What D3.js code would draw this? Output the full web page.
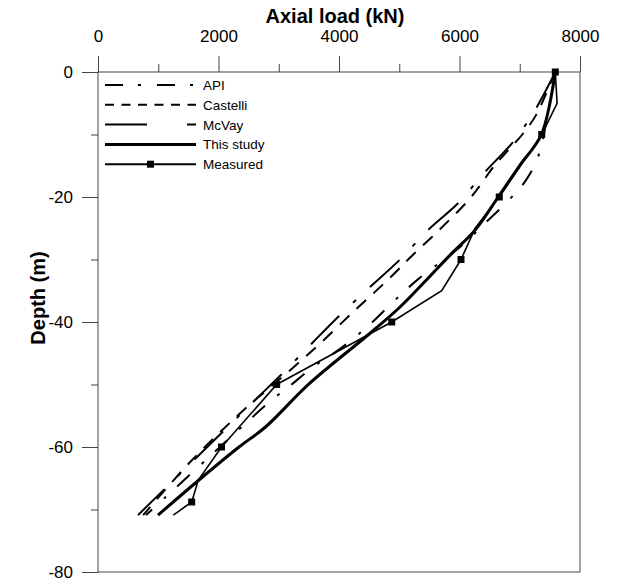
<!DOCTYPE html>
<html>
<head>
<meta charset="utf-8">
<script src="https://cdn.jsdelivr.net/npm/d3@7"></script>
<style>
  body { margin: 0; background: #fff; }
  text { font-family: Arial, "Liberation Sans", sans-serif; fill: #000; }
</style>
</head>
<body>
<div id="chart"></div>
<script>
// Axis ticks
const loadTicks = [0, 2000, 4000, 6000, 8000];
const loadMinor = [1000, 3000, 5000, 7000];
const depthTicks = [0, -20, -40, -60, -80];
const depthMinor = [-10, -30, -50, -70];

// API
const apiDepth = [0, -6, -13.6, -17.3, -20.3, -24.2, -28, -33.3, -36.8, -40.8, -44.3, -47.2, -50.6, -52.3, -60, -70.9];
const apiLoad = [7590, 7480, 7303, 7104, 6839, 6424, 6009, 5295, 4897, 4465, 4017, 3569, 3137, 2905, 2025, 797];

// Castelli
const castelliDepth = [0, -3.4, -6.9, -9.8, -12.5, -15.2, -17.9, -20.5, -25.3, -29.6, -32.8, -37.8, -43.4, -47.2, -50.9, -54.6, -62.4, -70.9];
const castelliLoad = [7590, 7440, 7270, 7060, 6810, 6560, 6360, 6150, 5660, 5190, 4860, 4300, 3690, 3250, 2800, 2360, 1530, 750];

// McVay
const mcvayDepth = [0, -6.1, -11.2, -16, -21, -25.3, -30, -34.4, -39.2, -43.4, -48.3, -52.8, -70.9];
const mcvayLoad = [7590, 7253, 6888, 6423, 5975, 5477, 5013, 4515, 3984, 3552, 3054, 2573, 664];

// This study
const studyDepth = [0, -10, -14.9, -19.8, -25.3, -29.3, -33, -37.6, -41.8, -49.9, -56.8, -60, -65, -70.9];
const studyLoad = [7590, 7360, 7004, 6656, 6258, 5843, 5478, 5013, 4515, 3502, 2780, 2340, 1710, 996];

// Measured (marked = drawn with a square)
const measuredDepth = [0, -5, -10, -20, -25, -30, -35, -40, -50, -60, -65.3, -68.8, -70.9];
const measuredLoad = [7590, 7620, 7365, 6660, 6260, 6025, 5705, 4875, 2965, 2050, 1665, 1555, 1250];
const measuredMarked = [1, 0, 1, 1, 0, 1, 0, 1, 1, 1, 0, 1, 0];

const width = 618, height = 582;
const margin = { top: 72, right: 38, bottom: 10, left: 98 };

const svg = d3.select("#chart")
    .append("svg")
    .attr("width", width)
    .attr("height", height);

svg.append("rect").attr("width", width).attr("height", height).attr("fill", "#fff");

const x = d3.scaleLinear().domain([0, 8000]).range([margin.left, width - margin.right]);
const y = d3.scaleLinear().domain([-80, 0]).range([height - margin.bottom, margin.top]);

// plain labels: no thousands comma, ascii minus
const plain = d => String(d);

// frame
svg.append("rect")
    .attr("x", x(0))
    .attr("y", y(0))
    .attr("width", x(8000) - x(0))
    .attr("height", y(-80) - y(0))
    .attr("fill", "none")
    .attr("stroke", "#444")
    .attr("stroke-width", 1);

// top axis
const xAxis = svg.append("g")
    .attr("transform", `translate(0, ${y(0)})`)
    .call(d3.axisTop(x).tickValues(loadTicks).tickSize(16).tickPadding(14).tickFormat(plain));
xAxis.select(".domain").remove();
xAxis.selectAll(".tick text").style("font-size", "17px");
xAxis.selectAll(".tick line").attr("stroke", "#444");

const xMinor = svg.append("g")
    .attr("transform", `translate(0, ${y(0)})`)
    .call(d3.axisTop(x).tickValues(loadMinor).tickSize(8).tickFormat(""));
xMinor.select(".domain").remove();
xMinor.selectAll(".tick line").attr("stroke", "#444");

// left axis
const yAxis = svg.append("g")
    .attr("transform", `translate(${x(0)}, 0)`)
    .call(d3.axisLeft(y).tickValues(depthTicks).tickSize(16).tickPadding(9).tickFormat(plain));
yAxis.select(".domain").remove();
yAxis.selectAll(".tick text").style("font-size", "17px");
yAxis.selectAll(".tick line").attr("stroke", "#444");

const yMinor = svg.append("g")
    .attr("transform", `translate(${x(0)}, 0)`)
    .call(d3.axisLeft(y).tickValues(depthMinor).tickSize(7).tickFormat(""));
yMinor.select(".domain").remove();
yMinor.selectAll(".tick line").attr("stroke", "#444");

// axis titles
svg.append("text")
    .attr("x", 335)
    .attr("y", 23)
    .style("text-anchor", "middle")
    .style("font-size", "20px")
    .style("font-weight", "bold")
    .text("Axial load (kN)");

svg.append("text")
    .attr("transform", "rotate(-90)")
    .attr("x", -298)
    .attr("y", 45)
    .style("text-anchor", "middle")
    .style("font-size", "20px")
    .style("font-weight", "bold")
    .text("Depth (m)");

// series
const zip = (loads, depths) => loads.map((l, i) => [l, depths[i]]);

const smooth = d3.line()
    .x(d => x(d[0]))
    .y(d => y(d[1]))
    .curve(d3.curveCatmullRom);

const straight = d3.line()
    .x(d => x(d[0]))
    .y(d => y(d[1]));

const series = [
    { name: "API", data: zip(apiLoad, apiDepth), width: 2, dash: "17,15,3,16", legendDash: "18,15,3,16" },
    { name: "Castelli", data: zip(castelliLoad, castelliDepth), width: 2, dash: "13,10", legendDash: "9,7.5" },
    { name: "McVay", data: zip(mcvayLoad, mcvayDepth), width: 2, dash: "40,19,4,19", legendDash: "42,40" },
    { name: "This study", data: zip(studyLoad, studyDepth), width: 3, dash: null, legendDash: null }
];

series.forEach(s => {
    svg.append("path")
        .datum(s.data)
        .attr("fill", "none")
        .attr("stroke", "#000")
        .attr("stroke-width", s.width)
        .attr("stroke-dasharray", s.dash)
        .attr("d", smooth);
});

const measured = zip(measuredLoad, measuredDepth);
svg.append("path")
    .datum(measured)
    .attr("fill", "none")
    .attr("stroke", "#000")
    .attr("stroke-width", 1.6)
    .attr("d", straight);

svg.selectAll(".marker")
    .data(measured.filter((d, i) => measuredMarked[i]))
    .join("rect")
    .attr("class", "marker")
    .attr("x", d => x(d[0]) - 3.5)
    .attr("y", d => y(d[1]) - 3.5)
    .attr("width", 7)
    .attr("height", 7)
    .attr("fill", "#000");

// legend
const legend = svg.append("g");
const legendRows = series.concat([{ name: "Measured", width: 2, dash: null, legendDash: null, marker: true }]);
legendRows.forEach((s, i) => {
    const ly = 85 + i * 19.8;
    legend.append("line")
        .attr("x1", 105).attr("x2", 196)
        .attr("y1", ly).attr("y2", ly)
        .attr("stroke", "#000")
        .attr("stroke-width", s.width)
        .attr("stroke-dasharray", s.legendDash);
    if (s.marker) {
        legend.append("rect")
            .attr("x", 147).attr("y", ly - 3.5)
            .attr("width", 7).attr("height", 7)
            .attr("fill", "#000");
    }
    legend.append("text")
        .attr("x", 203)
        .attr("y", ly + 5)
        .style("font-size", "13.5px")
        .text(s.name);
});
</script>
</body>
</html>
